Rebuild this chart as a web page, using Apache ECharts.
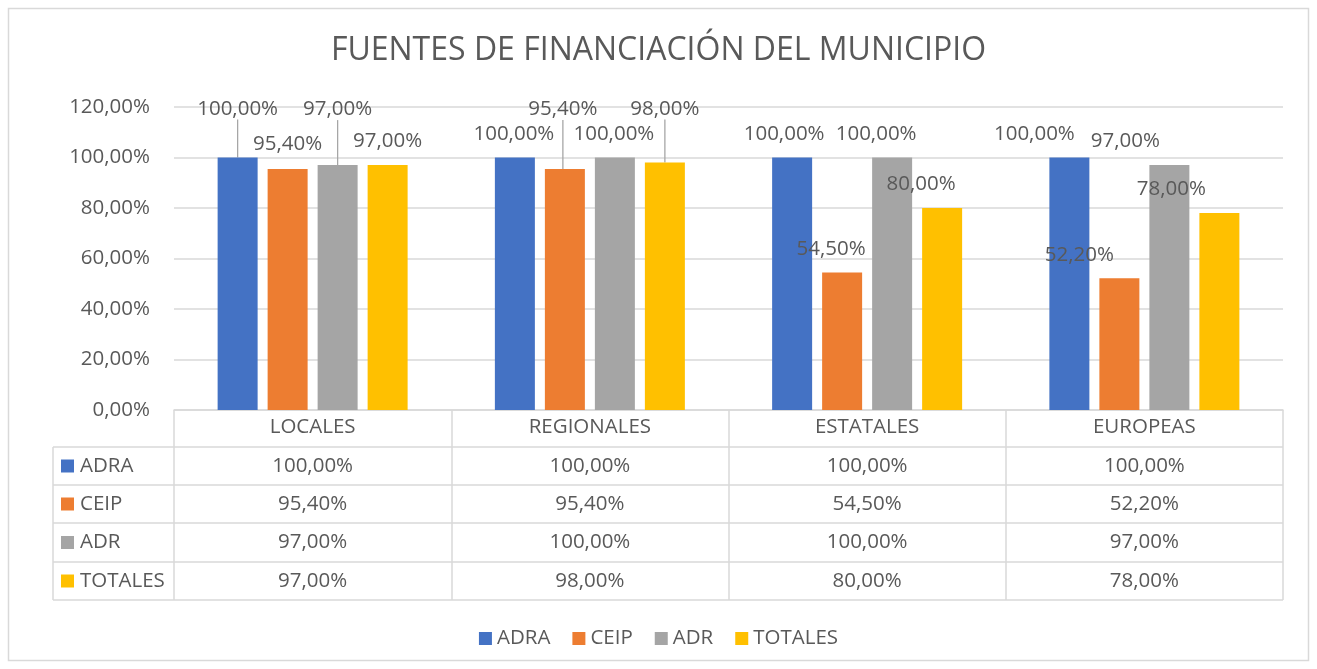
<!DOCTYPE html>
<html>
<head>
<meta charset="utf-8">
<script src="https://cdn.jsdelivr.net/npm/echarts@6/dist/echarts.min.js"></script>
<style>
html,body{margin:0;padding:0;background:#fff;}
#chart{width:1317px;height:669px;}
</style>
</head>
<body>
<div id="chart"></div>
<script>
const categories = ['LOCALES', 'REGIONALES', 'ESTATALES', 'EUROPEAS'];
const seriesNames = ['ADRA', 'CEIP', 'ADR', 'TOTALES'];
const adra = [100, 100, 100, 100];
const ceip = [95.4, 95.4, 54.5, 52.2];
const adr = [97, 100, 100, 97];
const totales = [97, 98, 80, 78];
const colors = ['#4472C4', '#ED7D31', '#A5A5A5', '#FFC000'];
const FONT = 'Open Sans';
const FS = 20.5;
const TEXT = '#595959';
const GRID = '#d9d9d9';

// label layout adjustments (dx, dy) and leader-line flags, per series per category
const labelShift = [
  [[0, -25], [-1, 0], [-8, 0], [-35, 0]],
  [[0, -1], [-2, -36], [-11, 0], [-40, 0]],
  [[0, -32], [-1, 0], [-16, 0], [-44, 0]],
  [[0, 0], [0, -30], [-21, 0], [-48, 0]]
];
const leader = [
  [true, false, false, false],
  [false, true, false, false],
  [true, false, false, false],
  [false, true, false, false]
];

const values = [adra, ceip, adr, totales];
const fmt = v => v.toFixed(2).replace('.', ',') + '%';

const chart = echarts.init(document.getElementById('chart'), null, {renderer: 'canvas'});

const series = seriesNames.map((name, si) => ({
  name: name,
  type: 'bar',
  barWidth: 40,
  barGap: '25%',
  itemStyle: {color: colors[si]},
  label: {
    show: true,
    position: 'top',
    distance: 13,
    color: TEXT,
    fontFamily: FONT,
    fontSize: FS,
    formatter: p => fmt(p.value)
  },
  labelLine: {show: false, lineStyle: {color: '#a6a6a6', width: 1.3}},
  labelLayout: function (params) {
    const s = labelShift[params.seriesIndex][params.dataIndex];
    return {dx: s[0], dy: s[1]};
  },
  data: values[si].map((v, ci) => ({
    value: v,
    labelLine: {show: leader[si][ci]}
  }))
}));

const option = {
  animation: false,
  backgroundColor: '#fff',
  color: colors,
  title: {
    text: 'FUENTES DE FINANCIACIÓN DEL MUNICIPIO',
    left: 'center',
    top: 30,
    textStyle: {color: TEXT, fontFamily: FONT, fontSize: 32, fontWeight: 'normal'}
  },
  legend: {
    data: seriesNames,
    left: 'center',
    top: 623,
    itemWidth: 13,
    itemHeight: 13,
    itemGap: 22,
    icon: 'rect',
    textStyle: {color: TEXT, fontFamily: FONT, fontSize: FS}
  },
  grid: {left: 174, right: 34, top: 107, bottom: 259, containLabel: false},
  xAxis: {
    type: 'category',
    data: categories,
    axisLine: {show: true, lineStyle: {color: GRID, width: 1.5}},
    axisTick: {show: true, length: 190, lineStyle: {color: GRID, width: 1.5}},
    axisLabel: {color: TEXT, fontFamily: FONT, fontSize: FS, margin: 7}
  },
  yAxis: {
    type: 'value',
    min: 0,
    max: 120,
    interval: 20,
    axisLine: {show: false},
    axisTick: {show: false},
    splitLine: {lineStyle: {color: GRID, width: 1.5}},
    axisLabel: {color: TEXT, fontFamily: FONT, fontSize: FS, margin: 24, formatter: v => fmt(v)}
  },
  series: series
};
chart.setOption(option);

// data table below the axis
const tableLeft = 53, tableRight = 1283;
const rowTops = [447, 485, 523, 562, 600];
const graphics = [];
graphics.push({
  type: 'rect', silent: true,
  shape: {x: 8.5, y: 8.5, width: 1300, height: 652},
  style: {fill: 'none', stroke: GRID, lineWidth: 1.5}
});
rowTops.forEach(y => graphics.push({
  type: 'line', silent: true,
  shape: {x1: tableLeft, y1: y, x2: tableRight, y2: y},
  style: {stroke: GRID, lineWidth: 1.5}
}));
graphics.push({
  type: 'line', silent: true,
  shape: {x1: tableLeft, y1: rowTops[0], x2: tableLeft, y2: rowTops[rowTops.length - 1]},
  style: {stroke: GRID, lineWidth: 1.5}
});
seriesNames.forEach((name, si) => {
  const cy = (rowTops[si] + rowTops[si + 1]) / 2;
  graphics.push({
    type: 'rect', silent: true,
    shape: {x: 61, y: cy - 6.5, width: 13, height: 13},
    style: {fill: colors[si]}
  });
  graphics.push({
    type: 'text', silent: true,
    x: 80, y: cy,
    style: {text: name, fill: TEXT, font: FS + 'px ' + FONT, verticalAlign: 'middle', align: 'left'}
  });
  categories.forEach((c, ci) => {
    const cx = chart.convertToPixel({xAxisIndex: 0}, c);
    graphics.push({
      type: 'text', silent: true,
      x: cx, y: cy,
      style: {text: fmt(values[si][ci]), fill: TEXT, font: FS + 'px ' + FONT, verticalAlign: 'middle', align: 'center'}
    });
  });
});
chart.setOption({graphic: graphics});
</script>
</body>
</html>
